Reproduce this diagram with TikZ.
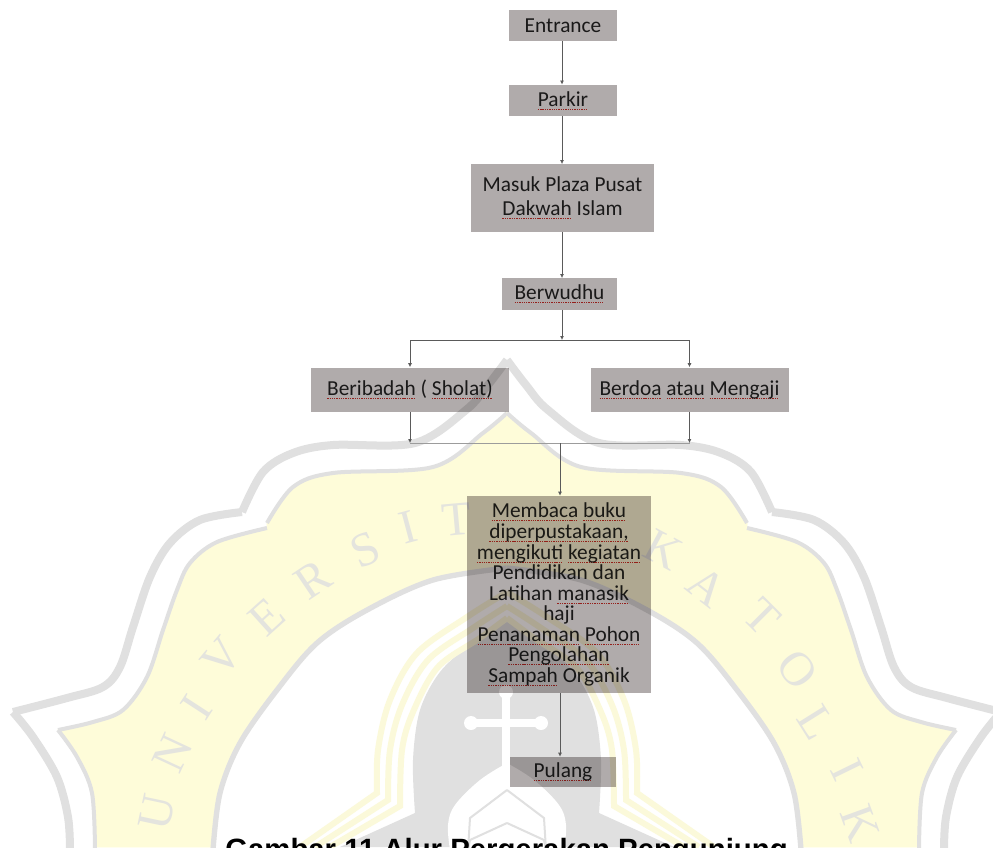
\documentclass[tikz,border=0pt]{standalone}
\usepackage{fontspec}
\setmainfont{Carlito}
\newfontfamily\capfont{Liberation Sans}
\newfontfamily\wmfont{Liberation Serif}
\usetikzlibrary{arrows.meta,calc}
\definecolor{wmgray}{HTML}{E0E0E0}
\definecolor{wmyellow}{HTML}{FEFCD9}
\definecolor{wmstripe}{HTML}{FBF9DA}
\definecolor{wmletter}{HTML}{E4E4DE}
\definecolor{boxgray}{HTML}{B0ABAB}
\definecolor{squig}{HTML}{D8312B}
\definecolor{linkgray}{HTML}{5A5A5A}
\newcommand{\sq}[1]{\leavevmode\setbox0\hbox{#1}\rlap{\raisebox{-2.6pt}{\hbox to\wd0{\color{squig}\xleaders\hbox{\rule{1pt}{0.7pt}\hskip0.7pt}\hfill}}}\box0 }
\newcommand{\wmhalf}{%
  \path[fill=wmyellow,draw=wmyellow,line width=0.6pt] plot[smooth,tension=0.55] coordinates {(507,413) (483,433) (433,467) (333,473) (293,487) (267,523)}
     -- plot[smooth,tension=0.55] coordinates {(267,528) (217,542) (190,563) (177,590) (163,630) (147,677) (123,710) (93,722) (58,730)}
     -- plot[smooth,tension=0.55] coordinates {(77,757) (92,793) (95,847)}
     -- (213,847)
     -- plot[smooth,tension=0.55] coordinates {(220,793) (240,743) (277,690) (317,643) (367,610) (433,580) (507,568)} -- cycle;
  \draw[wmband,line width=6pt] plot[smooth,tension=0.55] coordinates {(507,360) (488,385) (466,410) (415,443) (333,445) (293,453) (263,472) (242,512)};
  \draw[wmband,line width=6pt] plot[smooth,tension=0.55] coordinates {(242,512) (200,520) (170,543) (150,577) (133,627) (120,667) (103,687) (67,698) (13,712)};
  \draw[wmband,line width=6pt] plot[smooth,tension=0.55] coordinates {(13,712) (33,737) (57,777) (68,817) (70,850)};
  \draw[wmband,line width=3pt] plot[smooth,tension=0.55] coordinates {(507,413) (483,433) (433,467) (333,473) (293,487) (267,523)};
  \draw[wmband,line width=3pt] plot[smooth,tension=0.55] coordinates {(267,528) (217,542) (190,563) (177,590) (163,630) (147,677) (123,710) (93,722) (58,730)};
  \draw[wmband,line width=3pt] plot[smooth,tension=0.55] coordinates {(58,730) (77,757) (92,793) (95,850)};
  \draw[wmband,line width=4pt] plot[smooth,tension=0.55] coordinates {(507,568) (433,580) (367,610) (317,643) (277,690) (240,743) (220,793) (213,850)};
  \fill[wmgray] plot[smooth,tension=0.55] coordinates {(507,622) (470,645) (440,672) (420,710) (413,760) (415,813)} -- (340,847) -- (507,847) -- cycle;
  \draw[wmstripe,line width=4.5pt] plot[smooth,tension=0.55] coordinates {(507,592) (467,617) (417,653) (390,700) (378,750) (377,793)} -- (300,847);
  \draw[wmstripe,line width=4.5pt] plot[smooth,tension=0.55] coordinates {(507,606) (473,628) (428,660) (402,705) (390,750) (388,800)} -- (315,847);
  \draw[wmstripe,line width=4.5pt] plot[smooth,tension=0.55] coordinates {(507,618) (480,638) (438,667) (413,712) (402,750) (400,806) } -- (330,847);
  \fill[white] plot[smooth,tension=0.6] coordinates {(507,763) (480,780) (455,805) (448,825) (450,850)} -- (507,850) -- cycle;
  \draw[wmgray,line width=1.5pt] (507,790) -- (470,818) -- (468,850);
  \draw[wmgray,line width=1.5pt] (507,823) -- (470,840) -- (468,850);
}
\tikzset{
  wmband/.style={wmgray,line join=round},
  wmletterst/.style={text=wmletter,font=\wmfont\fontsize{36}{36}\selectfont,inner sep=0pt},
  flowbox/.style={fill=boxgray,text=black!85,inner sep=0pt,align=center,font=\fontsize{16}{15.4}\selectfont},
  linkst/.style={draw=linkgray,line width=0.75pt,-{Latex[length=3pt,width=3pt]}},
  plainlink/.style={draw=linkgray,line width=0.75pt},
}
\begin{document}
\begin{tikzpicture}[x=0.75pt,y=-0.75pt]
\clip (0,0) rectangle (993,847);
\fill[white] (0,0) rectangle (993,847);
% watermark
\wmhalf
\begin{scope}[shift={(1014,0)},xscale=-1]
\wmhalf
\end{scope}
\draw[white,line width=6pt,line cap=round] (506,695) -- (506,775);
\draw[white,line width=6pt,line cap=round] (473,723) -- (539,723);
\fill[white] (506,692) circle (7) (471,723) circle (7) (541,723) circle (7);
\foreach \l/\px/\py/\r in {U/157/812/78,N/173/753/65,I/197/707/57,V/222/657/50,E/267/617/42,R/313/580/34,S/365/550/24,I/408/527/15,T/457/520/5,K/663/550/-28,A/707/587/-38,T/762/617/-45,O/797/670/-52,L/817/723/-58,I/847/770/-64,K/860/823/-70}
  \node[wmletterst,rotate=\r] at (\px,\py) {\l};
% flow boxes
\begin{scope}[blend mode=multiply]
\node[flowbox,minimum width=81pt,minimum height=23.5pt] (entrance) at (563,25.5) {Entrance};
\node[flowbox,minimum width=81pt,minimum height=23.5pt] (parkir) at (563,100.5) {\sq{Parkir}};
\node[flowbox,minimum width=137.25pt,minimum height=50.5pt,font=\fontsize{16}{17.8}\selectfont] (masuk) at (562.5,198) {Masuk Plaza Pusat\\\sq{Dakwah} Islam};
\node[flowbox,minimum width=86.25pt,minimum height=23.5pt] (wudhu) at (559.5,294) {\sq{Berwudhu}};
\node[flowbox,minimum width=148.5pt,minimum height=33pt] (ibadah) at (410,389.5) {\sq{Beribadah} ( \sq{Sholat)}};
\node[flowbox,minimum width=148.5pt,minimum height=33pt] (doa) at (689.5,389.5) {\sq{Berdoa} \sq{atau} \sq{Mengaji}};
\node[flowbox,minimum width=138pt,minimum height=147.75pt] (baca) at (559,594.5) {\sq{Membaca} \sq{buku}\\\sq{diperpustakaan,}\\\sq{mengikuti} \sq{kegiatan}\\Pendidikan dan\\Latihan \sq{manasik}\\haji\\\sq{Penanaman} \sq{Pohon}\\\sq{Pengolahan}\\\sq{Sampah} Organik};
\node[flowbox,minimum width=79.5pt,minimum height=22.5pt] (pulang) at (563,772) {\sq{Pulang}};
\end{scope}
% connectors
\coordinate (upper) at (562,340);
\coordinate (lower) at (560,443);
\coordinate (upleft) at (ibadah.north |- upper);
\coordinate (upright) at (doa.north |- upper);
\coordinate (lowleft) at (ibadah.south |- lower);
\coordinate (lowright) at (doa.south |- lower);
\draw[linkst] (entrance.south -| upper) -- (parkir.north -| upper);
\draw[linkst] (parkir.south -| upper) -- (masuk.north -| upper);
\draw[linkst] (masuk.south -| upper) -- (wudhu.north -| upper);
\draw[linkst] (wudhu.south -| upper) -- (upper);
\draw[plainlink] (upleft) -- (upright);
\draw[linkst] (upleft) -- (ibadah.north);
\draw[linkst] (upright) -- (doa.north);
\draw[linkst] (ibadah.south) -- (lowleft);
\draw[linkst] (doa.south) -- (lowright);
\draw[draw=linkgray!60,line width=0.5pt] (lowleft) -- (lowright);
\draw[linkst] (lower) -- (baca.north -| lower);
\draw[linkst] (baca.south -| lower) -- (pulang.north -| lower);
% caption
\node[anchor=base,inner sep=0pt,font=\capfont\bfseries\fontsize{22}{22}\selectfont,text=black] (caption) at (506.5,859) {Gambar 11 Alur Pergerakan Pengunjung};
\end{tikzpicture}
\end{document}
